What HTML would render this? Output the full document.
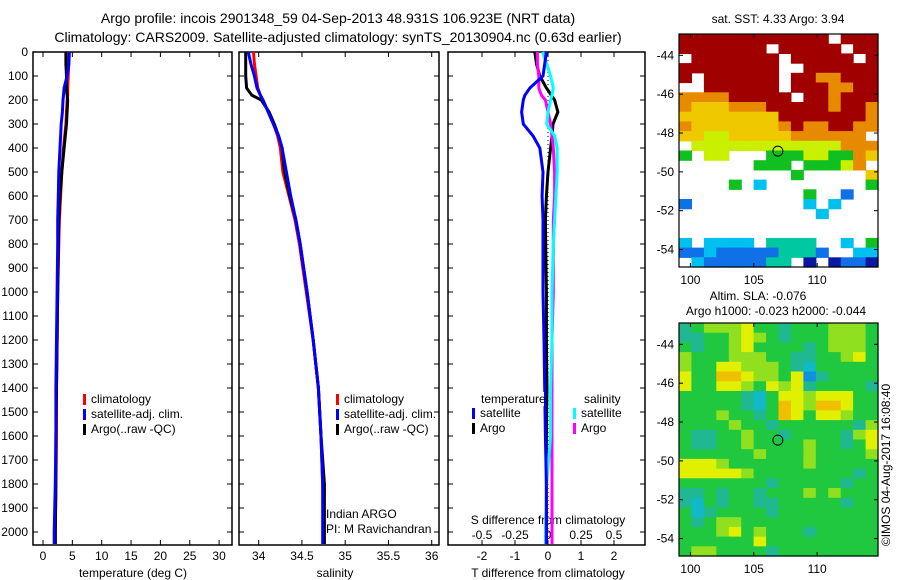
<!DOCTYPE html>
<html><head><meta charset="utf-8"><style>
body{margin:0;background:#fff}
svg{display:block}
text{font-family:"Liberation Sans",sans-serif;font-size:12px;fill:#000}
.big{font-size:14px}
</style></head><body>
<svg id="c" width="900" height="580" xmlns="http://www.w3.org/2000/svg"></svg>
<script>
// ---- data ----
const depths=[0,50,100,150,180,200,250,300,350,400,500,600,700,800,1000,1200,1400,1600,1800,2000,2050];
const tClim=[4.4,4.4,4.3,4.2,4.2,4.1,4.0,3.9,3.7,3.5,3.2,3.0,2.8,2.7,2.5,2.4,2.3,2.3,2.2,2.1,2.1];
const tSat=[4.5,4.4,4.1,3.6,3.5,3.4,3.3,3.1,3.0,2.9,2.7,2.6,2.5,2.5,2.4,2.3,2.2,2.2,2.1,1.9,1.9];
const tArgo=[3.9,3.9,4.0,4.0,4.1,4.2,4.1,4.0,3.8,3.6,3.2,2.9,2.7,2.6,2.5,2.4,2.3,2.2,2.2,2.1,2.1];
const sClim=[33.94,33.95,33.97,33.99,34.02,34.05,34.11,34.17,34.22,34.25,34.28,34.35,34.42,34.47,34.55,34.63,34.69,34.72,34.74,34.75,34.75];
const sSat=[33.88,33.91,33.95,33.98,34.02,34.05,34.11,34.17,34.23,34.27,34.32,34.37,34.43,34.48,34.56,34.63,34.69,34.72,34.74,34.74,34.74];
const sArgo=[33.85,33.85,33.85,33.86,33.92,34.03,34.12,34.18,34.23,34.27,34.30,34.36,34.43,34.48,34.56,34.63,34.69,34.72,34.76,34.76,34.76];
const dTSat=[-0.05,-0.1,-0.15,-0.55,-0.7,-0.75,-0.8,-0.75,-0.45,-0.25,-0.15,-0.18,-0.15,-0.15,-0.15,-0.12,-0.1,-0.08,-0.05,-0.05,-0.05];
const dTArgo=[-0.4,-0.35,-0.25,-0.05,0.1,0.2,0.3,0.15,0.12,0.08,0.0,-0.05,-0.08,-0.07,-0.05,-0.05,-0.03,-0.05,-0.05,-0.05,-0.05];
const dSSat=[-0.04,-0.01,0.02,0.04,0.03,0.02,0.0,-0.01,0.05,0.07,0.07,0.06,0.05,0.04,0.03,0.03,0.02,0.02,-0.01,-0.02,-0.02];
const dSArgo=[-0.08,-0.08,-0.07,-0.07,-0.05,-0.02,0.0,0.02,0.03,0.04,0.05,0.05,0.04,0.04,0.04,0.03,0.03,0.03,0.03,0.03,0.03];
const depthTicks=[0,100,200,300,400,500,600,700,800,900,1000,1100,1200,1300,1400,1500,1600,1700,1800,1900,2000];
const tTicks=[0,5,10,15,20,25,30];
const sTicks=["34","34.5","35","35.5","36"];
const dTTicks=[-2,-1,0,1,2];
const dSTicks=["-0.5","-0.25","0","0.25","0.5"];
const sstRows=[
"RRRRRRRRRRRR.RRR","RRRRRRR.RRRRR.RR",".RRRRRRR.RRRRR.R","RRRRRRRR..RRRRRR",
"R.RRRRRR.RRooRRR","..RRRRRR.RRRooRR","ooooRRRRR.RRoRRR","oyyyoooRRRRRoRRo",
"yyyyyyyyRRRRRRRo","oyyyyyyyoRooRRoo","yyggyyyyyoooooo.",".ggggggggggggooo",
"G.gg...GGGggGGoy","......GGG.GGGgo.",".........G.....y","....G.c........G",
"..........G..b..","b.........c.c...","...........c....","................",
"................","c.cccc.tttt..c.G","bbcbbbbbtttb..cc",".cbbbbbtt.B.BbbB"];
const slaRows=[
"TGLLLYGGTGGGLLLG","TTGGLYLGTGGGLLLG","GTGGLYGGGGTGLLLG","LGGGLLLGGTTGGLYG",
"LGGYYLLLGTCGGGGG","YGGOOYLLGYBTGGGG","YGGYYLGYLYTGGGGT","GGGGGTCGYYLYYYGG",
"GGGGGTCGOYLOOYGG","GGGLGGTGOYGYYLGG","GGGGLGGTGGGGGGTL","GTTGGLGGTGGGGTLY",
"GTTGGLGGGGLGGTGY","GGGGGGLGGGLGGGGL","YYYLGGGGGGLGGGGG","YYYYYLGGGGGGGGTG",
"GGGGGGGTGGGGGTGG","TTGTGGTGGGLGLGGG","TCGTGGTTGGGGGTGG","GCTGGGGTGGGGGGGG",
"GTGLLGGGGGGGGGGG","GGGLYGLGGGTGGGGG","GGGGGGYGGGGGGGGG","GLLGGGGTGGGGGGGG"];
const argoLon=106.9, argoLat=-48.93;
const latTicks=[-44,-46,-48,-50,-52,-54];
const lonTicks=[100,105,110];

// ---- drawing ----
const svg=document.getElementById('c');
const NS='http://www.w3.org/2000/svg';
function mk(tag,attrs,parent){const e=document.createElementNS(NS,tag);for(const k in attrs)e.setAttribute(k,attrs[k]);(parent||svg).appendChild(e);return e;}
function txt(x,y,s,anchor,parent,name){const t=mk('text',{x:x,y:y,'text-anchor':anchor||'middle'},parent);t.textContent=s;


return t;}
const yD=d=>52+d*0.24;
const PB=545;
function frame(x0,x1,name){const r=mk('rect',{x:x0,y:52,width:x1-x0,height:PB-52,fill:'none',stroke:'#000','stroke-width':1.5});

}
function line(xs,xf,color,name,w,parent){let d='';depths.forEach((dp,i)=>{const x=xf(xs[i]),y=Math.min(yD(dp),PB);d+=(i?'L':'M')+x.toFixed(1)+','+y.toFixed(1);});
const p=mk('path',{d:d,fill:'none',stroke:color,'stroke-width':w||3},parent);

}
function ticksX(vals,xf,labels,y){vals.forEach((v,i)=>{const x=xf(v);mk('line',{x1:x,x2:x,y1:PB,y2:PB-5,stroke:'#000'});mk('line',{x1:x,x2:x,y1:52,y2:57,stroke:'#000'});txt(x,y,labels?labels[i]:String(v),'middle',null,'x-tick-label');});}

// titles
txt(338,23,'Argo profile: incois 2901348_59 04-Sep-2013 48.931S 106.923E (NRT data)','middle',null,'title-line-1').setAttribute('class','big');
txt(338,42,'Climatology: CARS2009. Satellite-adjusted climatology: synTS_20130904.nc (0.63d earlier)','middle',null,'title-line-2').setAttribute('class','big');

// panel 1 temperature
const xT=v=>43+v*5.87;
frame(33,232,'temperature-panel');
depthTicks.forEach(d=>{const y=yD(d);mk('line',{x1:33,x2:38,y1:y,y2:y,stroke:'#000'});mk('line',{x1:232,x2:227,y1:y,y2:y,stroke:'#000'});txt(28,y+4,String(d),'end',null,'y-tick-label');});
ticksX(tTicks,xT,null,560);
txt(133,577,'temperature (deg C)','middle',null,'x-axis-title-temperature');
line(tClim,xT,'#f00','temp-climatology');
line(tArgo,xT,'#000','temp-argo');
line(tSat,xT,'#00f','temp-satellite');
// panel 2 salinity
const xS=v=>258.7+(v-34)*86.5;
frame(239,439,'salinity-panel');
depthTicks.forEach(d=>{const y=yD(d);mk('line',{x1:239,x2:244,y1:y,y2:y,stroke:'#000'});mk('line',{x1:439,x2:434,y1:y,y2:y,stroke:'#000'});});
ticksX(sTicks.map(Number),xS,sTicks,560);
txt(335,577,'salinity','middle',null,'x-axis-title-salinity');
line(sClim,xS,'#f00','sal-climatology');
line(sArgo,xS,'#000','sal-argo');
line(sSat,xS,'#00f','sal-satellite');
txt(326,518,'Indian ARGO','start',null,'credit-line-1');
txt(326,533,'PI: M Ravichandran','start',null,'credit-line-2');
function legend(x,y,items,name){const g=mk('g',{});
items.forEach((it,i)=>{mk('rect',{x:x,y:y+i*15-9,width:3,height:11,fill:it[0]},g);txt(x+8,y+i*15,it[1],'start',g,'legend-entry');});}
legend(83,403,[['#f00','climatology'],['#00f','satellite-adj. clim.'],['#000','Argo(..raw -QC)']],'temperature-legend');
legend(336,403,[['#f00','climatology'],['#00f','satellite-adj. clim.'],['#000','Argo(..raw -QC)']],'salinity-legend');
// panel 3 differences
const xDT=v=>548+v*33;
const xDS=v=>548+v*132;
frame(448,645,'difference-panel');
depthTicks.forEach(d=>{const y=yD(d);mk('line',{x1:448,x2:453,y1:y,y2:y,stroke:'#000'});mk('line',{x1:645,x2:640,y1:y,y2:y,stroke:'#000'});});
ticksX(dTTicks,xDT,null,560);
dSTicks.forEach(s=>{txt(xDS(Number(s)),539,s,'middle',null,'s-tick-label');});
txt(548,524,'S difference from climatology','middle',null,'s-axis-title');
txt(548,577,'T difference from climatology','middle',null,'t-axis-title');
const zl=mk('line',{x1:xDT(0),x2:xDT(0),y1:52,y2:PB,stroke:'#000','stroke-dasharray':'1,3'});


line(dTArgo,xDT,'#000','dtemp-argo');
line(dSArgo,xDS,'#f0f','dsal-argo');
line(dSSat,xDS,'#0ff','dsal-satellite');
line(dTSat,xDT,'#00f','dtemp-satellite');
mk('rect',{x:480,y:392,width:64,height:14,fill:'#fff'});
txt(481,403,'temperature','start',null,'legend-heading-temperature');
txt(584,403,'salinity','start',null,'legend-heading-salinity');
legend(472,417,[['#00f','satellite'],['#000','Argo']],'temperature-diff-legend');
legend(573,417,[['#0ff','satellite'],['#f0f','Argo']],'salinity-diff-legend');

// maps
const MX0=679,MX1=878,LON0=99.1,LON1=114.8,LAT0=-42.9,LAT1=-54.9;
function map(y0,y1,rows,cols,name){
 const g=mk('g',{});
 const lx=v=>MX0+(v-LON0)/(LON1-LON0)*(MX1-MX0);
 const ly=v=>y0+(v-LAT0)/(LAT1-LAT0)*(y1-y0);
 const nC=rows[0].length,nR=rows.length;
 const cw=(MX1-MX0)/nC,ch=(y1-y0)/nR;
 rows.forEach((r,i)=>{for(let j=0;j<nC;j++){const c=cols[r[j]];if(!c)continue;
  const cell=mk('rect',{x:(MX0+j*cw).toFixed(1),y:(y0+i*ch).toFixed(1),width:(cw+0.6).toFixed(1),height:(ch+0.6).toFixed(1),fill:c},g);
  
  }});
 mk('rect',{x:MX0,y:y0,width:MX1-MX0,height:y1-y0,fill:'none',stroke:'#000','stroke-width':1.2},g);
 latTicks.forEach(v=>{const y=ly(v);mk('line',{x1:MX0,x2:MX0+4,y1:y,y2:y,stroke:'#000'},g);mk('line',{x1:MX1,x2:MX1-4,y1:y,y2:y,stroke:'#000'},g);txt(674,y+4,String(v),'end',g,'lat-tick-label');});
 lonTicks.forEach(v=>{const x=lx(v);mk('line',{x1:x,x2:x,y1:y1,y2:y1-4,stroke:'#000'},g);mk('line',{x1:x,x2:x,y1:y0,y2:y0+4,stroke:'#000'},g);txt(x,y1+17,String(v),'middle',g,'lon-tick-label');});
 const m=mk('circle',{cx:lx(argoLon),cy:ly(argoLat),r:5,fill:'none',stroke:'#000'},g);
 
 
}
map(34,267,sstRows,{R:'#a00000',o:'#e88a00',y:'#f0c800',g:'#c8f000',G:'#10c020',t:'#00c8a0',c:'#00c0f0',b:'#1070e8',B:'#0818a0'},'sst-map');
map(323,556,slaRows,{G:'#20c840',L:'#90e020',Y:'#e0f000',O:'#f0c000',T:'#20b890',C:'#10b8c8',B:'#1090e0'},'sla-map');
txt(778,23,'sat. SST: 4.33 Argo: 3.94','middle',null,'sst-map-title');
txt(758,300,'Altim. SLA: -0.076','middle',null,'sla-map-title-1');
txt(776,315,'Argo h1000: -0.023 h2000: -0.044','middle',null,'sla-map-title-2');
const cr=txt(0,0,'©IMOS 04-Aug-2017 16:08:40','middle',null,'copyright-stamp');
cr.setAttribute('transform','translate(890,465) rotate(-90)');
</script>
</body></html>
